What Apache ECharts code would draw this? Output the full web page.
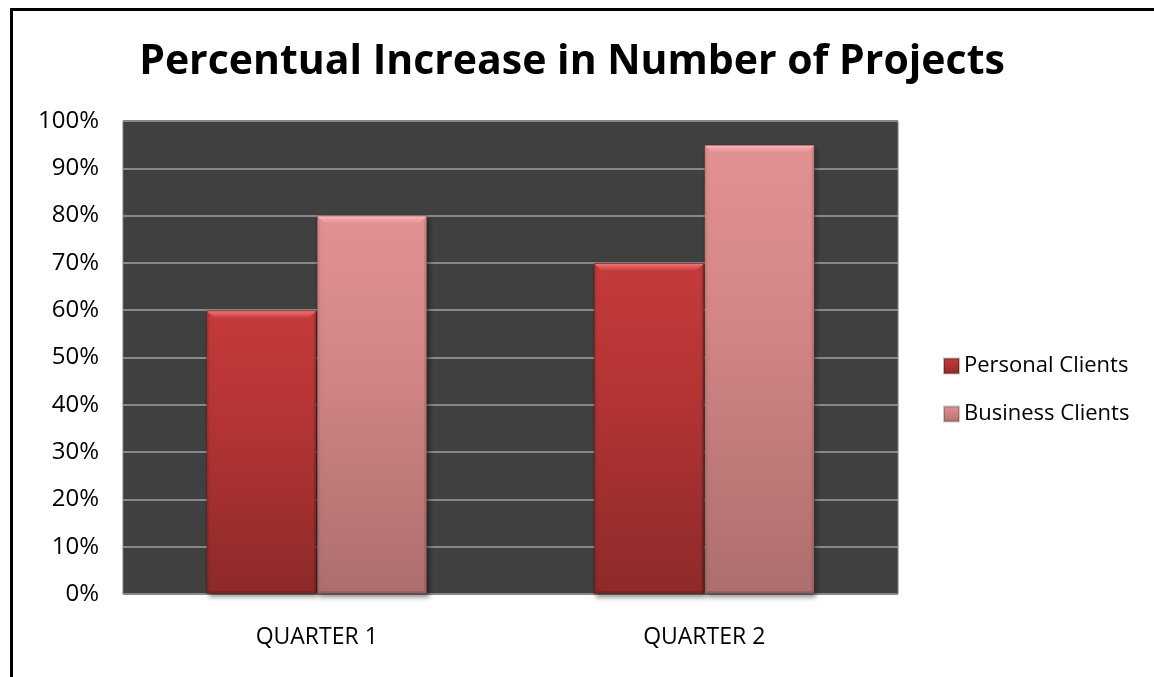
<!DOCTYPE html>
<html><head><meta charset="utf-8">
<script src="https://cdn.jsdelivr.net/npm/echarts@6/dist/echarts.min.js"></script>
<style>html,body{margin:0;padding:0;background:#fff}#c{width:1154px;height:677px}</style>
</head><body><div id="c"></div>
<script>
var categories = ['QUARTER 1', 'QUARTER 2'];
var personalClients = [60, 70];
var businessClients = [80, 95];
var seriesNames = ['Personal Clients', 'Business Clients'];
var FONT = 'Open Sans';

function grad(top, bottom) {
  return new echarts.graphic.LinearGradient(0, 0, 0, 1, [
    {offset: 0, color: top}, {offset: 1, color: bottom}
  ]);
}

var bevelData = [];
personalClients.forEach(function (v, i) { bevelData.push([i, v, 0]); });
businessClients.forEach(function (v, i) { bevelData.push([i, v, 1]); });
var bevelColors = [['#f47272', '#c43b3a'], ['#f8b4b4', '#e29192']];

var chart = echarts.init(document.getElementById('c'), null, {renderer: 'canvas'});
chart.setOption({
  animation: false,
  backgroundColor: '#ffffff',
  title: {
    text: 'Percentual Increase in Number of Projects',
    left: 567, top: 37, textAlign: 'center',
    textStyle: {fontFamily: FONT, fontWeight: 'bold', fontSize: 41, color: '#000'}
  },
  legend: {
    orient: 'vertical', left: 938, top: 349, itemGap: 24,
    itemWidth: 15, itemHeight: 15, icon: 'rect',
    textStyle: {fontFamily: FONT, fontSize: 22, lineHeight: 24, color: '#000'},
    data: seriesNames
  },
  grid: {left: 123, right: 256, top: 121, bottom: 83, show: true, backgroundColor: '#404040', borderColor: '#7a7a7a', borderWidth: 1},
  xAxis: {
    type: 'category', data: categories,
    axisLine: {show: false}, axisTick: {show: false},
    axisLabel: {fontFamily: FONT, fontSize: 23, color: '#000', margin: 32}
  },
  yAxis: {
    type: 'value', min: 0, max: 100, interval: 10,
    axisLine: {show: false}, axisTick: {show: false},
    axisLabel: {fontFamily: FONT, fontSize: 24, color: '#000', margin: 24, formatter: '{value}%'},
    splitLine: {lineStyle: {color: '#888888', width: 2}}
  },
  series: [
    {
      name: seriesNames[0], type: 'bar', data: personalClients,
      barGap: '0%', barCategoryGap: '43%',
      itemStyle: {color: new echarts.graphic.LinearGradient(0, 0, 0, 1, [
          {offset: 0, color: '#c43b3a'}, {offset: 0.4, color: '#b43434'}, {offset: 1, color: '#8e2a2a'}]),
        borderColor: 'rgba(0,0,0,0.25)', borderWidth: 1,
        shadowColor: 'rgba(0,0,0,0.45)', shadowBlur: 5, shadowOffsetX: 2, shadowOffsetY: 3}
    },
    {
      name: seriesNames[1], type: 'bar', data: businessClients,
      itemStyle: {color: new echarts.graphic.LinearGradient(0, 0, 0, 1, [
          {offset: 0, color: '#e29192'}, {offset: 0.4, color: '#d38585'}, {offset: 1, color: '#ad6e6e'}]),
        borderColor: 'rgba(0,0,0,0.2)', borderWidth: 1,
        shadowColor: 'rgba(0,0,0,0.45)', shadowBlur: 5, shadowOffsetX: 2, shadowOffsetY: 3}
    },
    {
      type: 'custom', silent: true, z: 5, data: bevelData,
      renderItem: function (params, api) {
        var cat = api.value(0), val = api.value(1), s = api.value(2);
        var band = api.size([1, 0])[0];
        var bw = band * 0.57 / 2;
        var top = api.coord([cat, val]);
        var base = api.coord([cat, 0]);
        var x0 = top[0] - bw + s * bw, x1 = x0 + bw, y0 = top[1], y1 = base[1], b = 8, e = 3;
        var c = bevelColors[s];
        return {
          type: 'group',
          children: [
            {type: 'polygon', shape: {points: [[x0 + 1, y0 + 1], [x1 - 1, y0 + 1], [x1 - b, y0 + b], [x0 + b, y0 + b]]},
              style: {fill: new echarts.graphic.LinearGradient(0, 0, 0, 1, [{offset: 0, color: c[0]}, {offset: 1, color: c[1]}])}},
            {type: 'polygon', shape: {points: [[x1 - 1, y0 + 1], [x1 - 1, y1 - 1], [x1 - e, y1 - e], [x1 - e, y0 + b]]},
              style: {fill: 'rgba(0,0,0,0.10)'}},
            {type: 'polygon', shape: {points: [[x0 + 1, y0 + 1], [x0 + e, y0 + b], [x0 + e, y1 - e], [x0 + 1, y1 - 1]]},
              style: {fill: 'rgba(0,0,0,0.06)'}},
            {type: 'polygon', shape: {points: [[x0 + 1, y1 - 1], [x0 + e, y1 - e], [x1 - e, y1 - e], [x1 - 1, y1 - 1]]},
              style: {fill: 'rgba(0,0,0,0.12)'}}
          ]
        };
      }
    }
  ],
  graphic: [
    {type: 'rect', shape: {x: 11.5, y: 9.5, width: 1200, height: 700}, style: {fill: null, stroke: '#000', lineWidth: 3}, silent: true}
  ]
});
</script></body></html>
